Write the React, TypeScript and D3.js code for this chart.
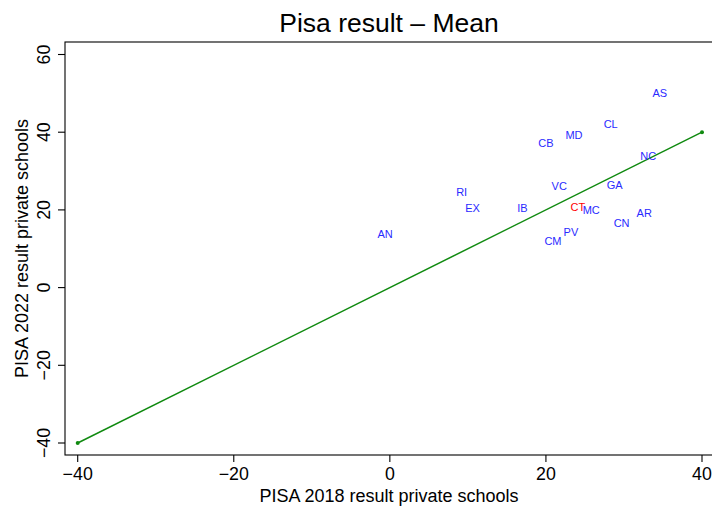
import React from "react";
import * as d3 from "d3";

const regions = ["AS", "CL", "MD", "CB", "NC", "RI", "VC", "GA", "EX", "IB", "CT", "MC", "AR", "CN", "PV", "CM", "AN"];
const pisa2018 = [34.6, 28.3, 23.6, 20.0, 33.1, 9.2, 21.7, 28.8, 10.6, 17.0, 24.1, 25.8, 32.6, 29.7, 23.2, 20.9, -0.6];
const pisa2022 = [50.0, 42.1, 39.3, 37.2, 33.9, 24.6, 26.2, 26.3, 20.6, 20.6, 20.7, 20.0, 19.2, 16.6, 14.3, 12.0, 13.8];
const highlight = ["CT"];
const xTicks = [-40, -20, 0, 20, 40];
const yTicks = [-40, -20, 0, 20, 40, 60];
const refLine = [-40, 40];

const W = 712;
const H = 506;
const FONT = "'Liberation Sans', Arial, Helvetica, sans-serif";

export default function App() {
  const x = d3.scaleLinear().domain([-40, 40]).range([77.7, 702]);
  const y = d3.scaleLinear().domain([-40, 60]).range([443, 54.5]);
  const boxL = 65, boxT = 42, boxB = 455, boxR = 716;
  const line = d3.line<number>().x((d) => x(d)).y((d) => y(d));

  return (
    <svg width={W} height={H} style={{ position: "absolute", left: 0, top: 0, background: "#fff" }} fontFamily={FONT}>
      <rect x={0} y={0} width={W} height={H} fill="#fff" />
      <text x={389} y={31.5} textAnchor="middle" fontSize={26.5} fill="#000">Pisa result – Mean</text>
      <rect x={boxL} y={boxT} width={boxR - boxL} height={boxB - boxT} fill="none" stroke="#000" strokeWidth={1.1} />
      {xTicks.map((t) => (
        <g key={"x" + t}>
          <line x1={x(t)} x2={x(t)} y1={boxB} y2={boxB + 7} stroke="#000" strokeWidth={1.1} />
          <text x={x(t)} y={479.5} textAnchor="middle" fontSize={17.8} fill="#000">{t < 0 ? "−" + Math.abs(t) : t}</text>
        </g>
      ))}
      {yTicks.map((t) => (
        <g key={"y" + t}>
          <line x1={boxL - 7} x2={boxL} y1={y(t)} y2={y(t)} stroke="#000" strokeWidth={1.1} />
          <text transform={`translate(49.5,${y(t)}) rotate(-90)`} textAnchor="middle" fontSize={17.8} fill="#000">{t < 0 ? "−" + Math.abs(t) : t}</text>
        </g>
      ))}
      <text x={389} y={501.5} textAnchor="middle" fontSize={18} fill="#000">PISA 2018 result private schools</text>
      <text transform={`translate(28.3,${(boxT + boxB) / 2}) rotate(-90)`} textAnchor="middle" fontSize={18} fill="#000">PISA 2022 result private schools</text>
      <path d={line(refLine) || ""} fill="none" stroke="#108a10" strokeWidth={1.5} />
      {refLine.map((v) => (
        <circle key={"p" + v} cx={x(v)} cy={y(v)} r={2} fill="#108a10" />
      ))}
      {regions.map((r, i) => (
        <text key={r} x={x(pisa2018[i])} y={y(pisa2022[i])} dy="0.36em" textAnchor="middle" fontSize={11} fill={highlight.includes(r) ? "#ff0000" : "#2a2aff"}>{r}</text>
      ))}
    </svg>
  );
}
